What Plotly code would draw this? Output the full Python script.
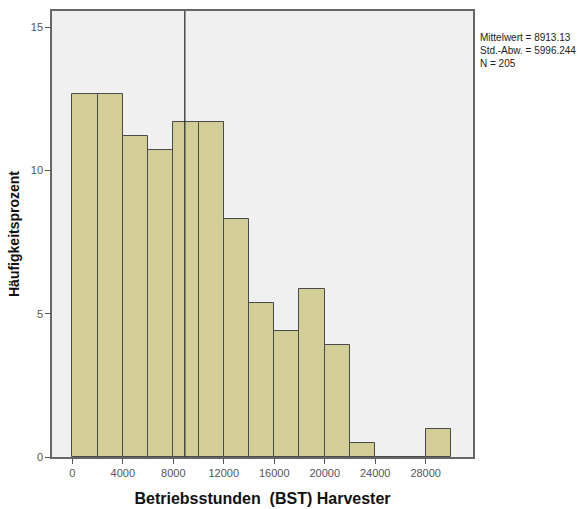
import plotly.graph_objects as go

# Histogram of operating hours (2000 h bins), counts per bin
bin_starts = [0, 2000, 4000, 6000, 8000, 10000, 12000, 14000, 16000, 18000,
              20000, 22000, 24000, 26000, 28000]
counts = [26, 26, 23, 22, 24, 24, 17, 11, 9, 12, 8, 1, 0, 0, 2]
bin_width = 2000
n_total = 205
mean_value = 8913.13
std_value = 5996.244

x_ticks = [0, 4000, 8000, 12000, 16000, 20000, 24000, 28000]
x_tick_labels = ["0", "4000", "8000", "12000", "16000", "20000", "24000", "28000"]
y_ticks = [0, 5, 10, 15]

percent = [c / n_total * 100 for c in counts]
centers = [s + bin_width / 2 for s in bin_starts]

fig = go.Figure()
fig.add_trace(go.Bar(
    x=centers, y=percent, width=bin_width,
    marker=dict(color="#D3CE98", line=dict(color="#4a4a4a", width=1)),
    hoverinfo="skip",
))

# vertical line at the mean
fig.add_shape(type="line", x0=mean_value, x1=mean_value, y0=0, y1=1,
              xref="x", yref="paper", line=dict(color="#333333", width=1.3))

fig.add_annotation(
    x=1.012, y=0.957, xref="paper", yref="paper",
    xanchor="left", yanchor="top", align="left", showarrow=False,
    text=(f"Mittelwert = {mean_value:.2f}<br>Std.-Abw. = {std_value:.3f}"
          f"<br>N = {n_total}"),
    font=dict(family="Liberation Sans, Arial", size=10, color="#222222"),
)

fig.update_layout(
    width=587, height=509,
    margin=dict(l=52, r=114, t=11, b=52, autoexpand=False),
    paper_bgcolor="white", plot_bgcolor="#F0F0F0",
    showlegend=False, bargap=0,
    font=dict(family="Liberation Sans, Arial", size=11, color="#444444"),
)
fig.update_xaxes(
    range=[-1610, 31750], tickvals=x_ticks, ticktext=x_tick_labels,
    showgrid=False, zeroline=False, automargin=False,
    ticks="outside", ticklen=5, tickcolor="#555555",
    showline=True, linecolor="#666666", linewidth=1.5, mirror=True,
    tickfont=dict(size=11, color="#555555"),
    title=dict(text="<b>Betriebsstunden  (BST) Harvester</b>",
               font=dict(size=16, color="#111111"), standoff=15),
)
fig.update_yaxes(
    range=[0, 15.57], tickvals=y_ticks, showgrid=False, zeroline=False,
    automargin=False,
    ticks="outside", ticklen=5, tickcolor="#555555",
    showline=True, linecolor="#666666", linewidth=1.5, mirror=True,
    tickfont=dict(size=11, color="#555555"),
    title=dict(text="<b>Häufigkeitsprozent</b>",
               font=dict(size=14, color="#111111"), standoff=8),
)

fig.write_html("out.html")
